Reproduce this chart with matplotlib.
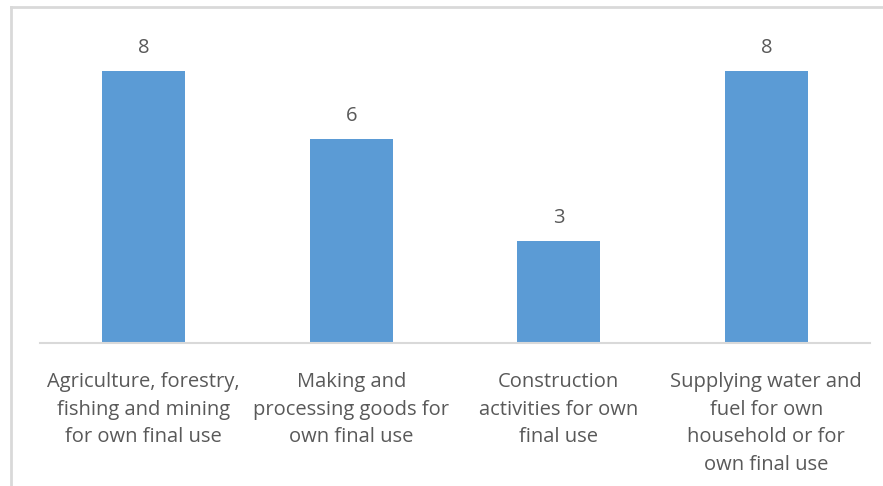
import matplotlib
matplotlib.use("Agg")
import matplotlib.pyplot as plt
from matplotlib.lines import Line2D

categories = [
    "Agriculture, forestry,\nfishing and mining\nfor own final use",
    "Making and\nprocessing goods for\nown final use",
    "Construction\nactivities for own\nfinal use",
    "Supplying water and\nfuel for own\nhousehold or for\nown final use",
]
values = [8, 6, 3, 8]

BAR_COLOR = "#5b9bd5"
TEXT_COLOR = "#595959"
LINE_COLOR = "#d9d9d9"

plt.rcParams["font.family"] = ["Open Sans", "DejaVu Sans"]

fig = plt.figure(figsize=(8.83, 4.86), dpi=100)
W, H = 883, 486

# plot area in pixel coordinates
left, right = 40, 870
bottom, top = 343, 20
ax = fig.add_axes([left / W, 1 - bottom / H, (right - left) / W, (bottom - top) / H])

x = range(len(values))
ax.bar(x, values, width=0.4, color=BAR_COLOR, zorder=2)
ax.set_xlim(-0.5, len(values) - 0.5)
ax.set_ylim(0, (bottom - top) / 34)

for xi, v in zip(x, values):
    ax.text(xi, v + 0.68, f"{v}", ha="center", va="center", fontsize=14.5, color=TEXT_COLOR)

for s in ["left", "right", "top"]:
    ax.spines[s].set_visible(False)
ax.spines["bottom"].set_color(LINE_COLOR)
ax.spines["bottom"].set_linewidth(1.5)
ax.set_yticks([])
ax.set_xticks(list(x))
ax.set_xticklabels(categories, fontsize=14.5, color=TEXT_COLOR, linespacing=1.5, va="top")
ax.tick_params(axis="x", length=0, pad=21)

# outer frame lines along top and left edges
fig.add_artist(Line2D([11 / W, 11 / W], [0, 1 - 7 / H], color=LINE_COLOR, lw=2, transform=fig.transFigure))
fig.add_artist(Line2D([11 / W, 1], [1 - 7 / H, 1 - 7 / H], color=LINE_COLOR, lw=2, transform=fig.transFigure))

fig.savefig("out.png", dpi=100)
